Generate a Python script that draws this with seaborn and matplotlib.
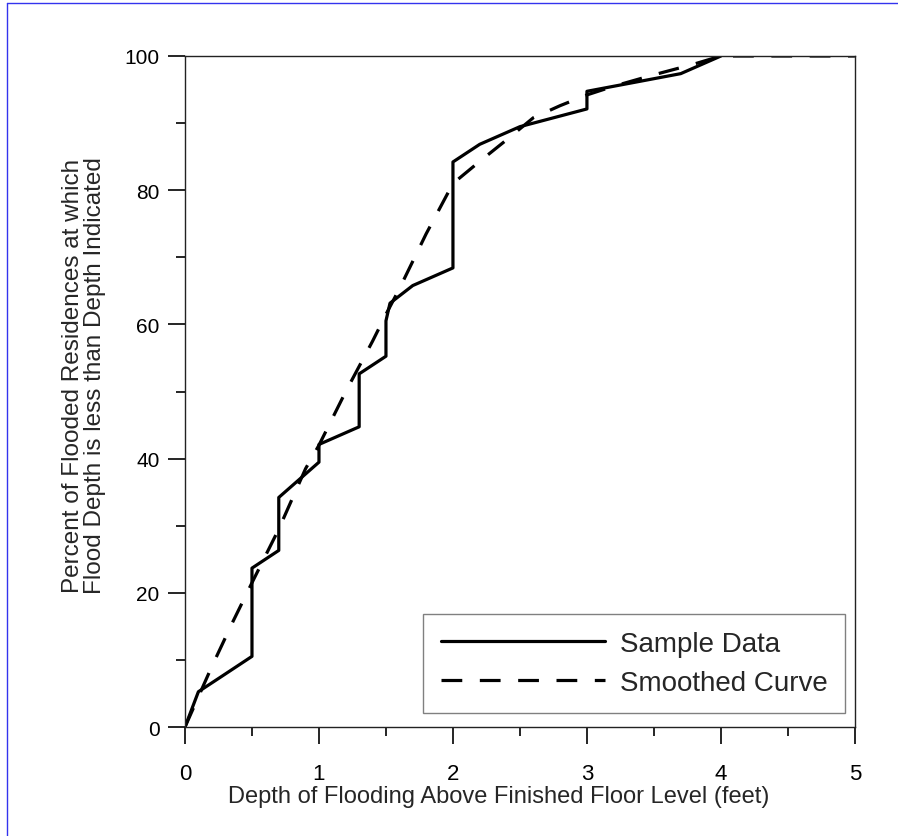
import matplotlib
matplotlib.use("Agg")
import matplotlib.pyplot as plt
import pandas as pd
import seaborn as sns
from matplotlib.lines import Line2D

# Sample data (cumulative percent of 38 flooded residences)
depth_sample = [0.0, 0.1, 0.3, 0.5, 0.5, 0.7, 0.7, 0.85, 1.0, 1.0, 1.3, 1.3,
                1.5, 1.5, 1.53, 1.7, 2.0, 2.0, 2.2, 2.5, 3.0, 3.0, 3.7, 4.0]
pct_sample = [0.0, 5.26, 7.89, 10.53, 23.68, 26.32, 34.21, 36.84, 39.47, 42.11,
              44.74, 52.63, 55.26, 60.53, 63.16, 65.79, 68.42, 84.21, 86.84,
              89.47, 92.11, 94.74, 97.37, 100.0]

# Smoothed curve
depth_smooth = [0.0, 0.1, 0.2, 0.36, 0.5, 0.7, 0.8, 0.9, 1.0, 1.2, 1.4, 1.5,
                1.6, 1.8, 2.0, 2.2, 2.4, 2.6, 2.8, 3.0, 3.2, 3.5, 3.8, 4.0, 5.0]
pct_smooth = [0.0, 4.5, 9.0, 15.8, 21.5, 29.5, 34.0, 38.5, 42.0, 50.0, 57.5,
              61.5, 65.3, 73.5, 81.0, 84.3, 87.5, 90.8, 92.6, 94.2, 95.5,
              97.2, 98.8, 100.0, 100.0]

x_ticks = [0, 1, 2, 3, 4, 5]
y_ticks = [0, 20, 40, 60, 80, 100]

df_sample = pd.DataFrame({"depth": depth_sample, "pct": pct_sample})
df_smooth = pd.DataFrame({"depth": depth_smooth, "pct": pct_smooth})

sns.set_style("ticks")
plt.rcParams["font.family"] = ["Liberation Sans", "DejaVu Sans"]

fig = plt.figure(figsize=(8.98, 8.37), dpi=100)
ax = fig.add_axes([0.206, 0.1302, 0.746, 0.8017])

lw = 2.3
sns.lineplot(data=df_sample, x="depth", y="pct", ax=ax, estimator=None,
             sort=False, color="black", linewidth=lw)
sns.lineplot(data=df_smooth, x="depth", y="pct", ax=ax, estimator=None,
             sort=False, color="black", linewidth=lw, dashes=False)
ax.lines[-1].set_dashes((6.5, 5.5))

ax.set_xlim(0, 5)
ax.set_ylim(0, 100)
ax.set_xticks(x_ticks)
ax.set_yticks(y_ticks)
ax.set_xticks([0.5, 1.5, 2.5, 3.5, 4.5], minor=True)
ax.set_yticks([10, 30, 50, 70, 90], minor=True)
for s in ax.spines.values():
    s.set_linewidth(1.0)
    s.set_color("#222222")
ax.tick_params(which="major", length=12.2, width=1.2, colors="black",
               direction="out")
ax.tick_params(which="minor", length=6.5, width=1.2, colors="black",
               direction="out")
ax.tick_params(axis="x", which="major", pad=14, labelsize=16)
ax.tick_params(axis="y", which="major", pad=6, labelsize=15)

ax.set_xlabel("Depth of Flooding Above Finished Floor Level (feet)",
              fontsize=17)
ax.xaxis.set_label_coords(0.468, -0.087)
ax.set_ylabel("Percent of Flooded Residences at which\n"
              "Flood Depth is less than Depth Indicated",
              fontsize=17.5, linespacing=1.0)
ax.yaxis.set_label_coords(-0.118, 0.525)

handles = [Line2D([], [], color="black", linewidth=lw),
           Line2D([], [], color="black", linewidth=lw, dashes=(6.5, 5.5))]
leg = ax.legend(handles, ["Sample Data", "Smoothed Curve"], loc="lower right",
                bbox_to_anchor=(0.985, 0.021), borderaxespad=0, fontsize=20,
                handlelength=5.9, handletextpad=0.55, labelspacing=0.45,
                borderpad=0.62, fancybox=False, framealpha=1,
                edgecolor="#808080")
leg.get_frame().set_linewidth(1.0)

# thin blue border around the figure (left and top edges)
fig.add_artist(Line2D([7 / 898, 7 / 898], [0, 1 - 4 / 837],
                      transform=fig.transFigure, color="#3333ee", linewidth=1))
fig.add_artist(Line2D([7 / 898, 1], [1 - 4 / 837, 1 - 4 / 837],
                      transform=fig.transFigure, color="#3333ee", linewidth=1))

fig.savefig("out.png", dpi=100)
